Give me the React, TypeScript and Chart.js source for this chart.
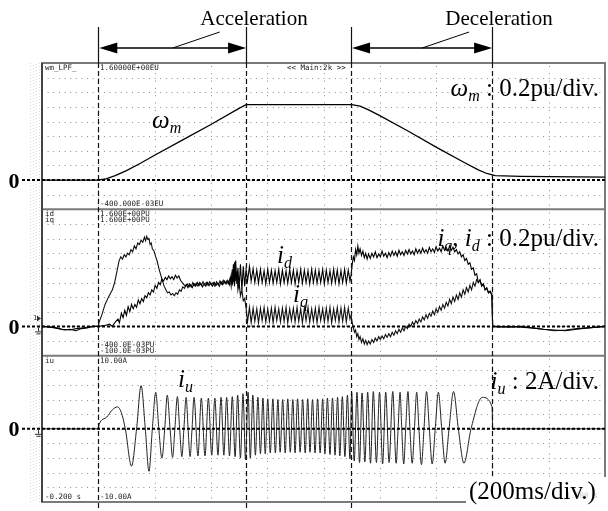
import React, { useEffect, useRef } from "react";
import { Chart, registerables } from "chart.js";

Chart.register(...registerables);

// ---------- axis ranges / markers ----------
const timeRange: [number, number] = [-0.2, 1.8]; // s, 200 ms/div
const puRange: [number, number] = [-0.4, 1.6]; // pu, 0.2 pu/div
const ampRange: [number, number] = [-10, 10]; // A, 2 A/div
const markerTimes = [0, 0.525, 0.898, 1.399]; // dashed event lines (s)

// ---------- series: [time s, value] ----------
const omegaPoints: [number, number][] = [
  [-0.2, 0], [0, 0], [0.03, 0.02], [0.06, 0.06], [0.1, 0.13], [0.15, 0.23], [0.2, 0.34], [0.3, 0.55],
  [0.4, 0.76], [0.5, 0.98], [0.525, 1.03], [0.9, 1.03], [0.93, 1.01], [0.96, 0.96], [1.0, 0.88],
  [1.1, 0.67], [1.2, 0.45], [1.3, 0.24], [1.35, 0.14], [1.38, 0.09], [1.41, 0.06], [1.5, 0.05], [1.8, 0.04],
];

const idPoints: [number, number][] = [
  [-0.2, 0], [-0.17, -0.01], [-0.14, -0.03], [-0.12, -0.05], [-0.1, -0.04], [-0.08, -0.06], [-0.06, -0.03], [-0.04, -0.02], [-0.02, 0], [0, 0],
  [0.02, 0.01], [0.04, 0.03], [0.05, 0.0], [0.06, 0.06], [0.07, 0.1], [0.075, 0.05], [0.082, 0.18], [0.088, 0.12], [0.094, 0.22], [0.1, 0.15],
  [0.106, 0.27], [0.112, 0.2], [0.118, 0.3], [0.124, 0.24], [0.13, 0.3], [0.136, 0.26], [0.142, 0.36], [0.148, 0.31], [0.154, 0.38], [0.16, 0.34],
  [0.166, 0.42], [0.172, 0.39], [0.178, 0.46], [0.184, 0.43], [0.19, 0.5], [0.196, 0.47], [0.202, 0.56], [0.208, 0.52], [0.214, 0.6], [0.22, 0.57],
  [0.226, 0.65], [0.232, 0.62], [0.238, 0.67], [0.244, 0.64], [0.25, 0.69], [0.256, 0.65], [0.262, 0.68], [0.268, 0.64], [0.274, 0.7], [0.28, 0.66],
  [0.286, 0.69], [0.292, 0.63], [0.298, 0.6], [0.304, 0.57], [0.31, 0.55], [0.316, 0.58], [0.322, 0.54], [0.328, 0.57], [0.334, 0.53], [0.34, 0.58],
  [0.346, 0.55], [0.352, 0.6], [0.358, 0.56], [0.364, 0.59], [0.37, 0.54], [0.376, 0.58], [0.382, 0.55], [0.388, 0.6], [0.394, 0.56], [0.4, 0.59],
  [0.406, 0.55], [0.412, 0.6], [0.418, 0.56], [0.424, 0.59], [0.43, 0.55], [0.436, 0.61], [0.442, 0.57], [0.448, 0.62], [0.454, 0.58], [0.46, 0.63],
  [0.466, 0.57], [0.472, 0.7], [0.476, 0.56], [0.48, 0.85], [0.484, 0.55], [0.488, 0.9], [0.492, 0.58], [0.496, 0.8], [0.5, 0.52], [0.505, 0.85],
  [0.51, 0.5], [0.515, 0.82], [0.52, 0.55], [0.525, 0.78],
  [0.53, 0.62], [0.537, 0.82], [0.543, 0.62], [0.55, 0.79], [0.556, 0.6], [0.563, 0.77], [0.569, 0.59], [0.576, 0.78], [0.582, 0.6], [0.589, 0.76],
  [0.595, 0.58], [0.602, 0.78], [0.608, 0.6], [0.615, 0.77], [0.621, 0.59], [0.628, 0.76], [0.634, 0.6], [0.641, 0.78], [0.647, 0.58], [0.654, 0.77],
  [0.66, 0.6], [0.667, 0.76], [0.673, 0.59], [0.68, 0.78], [0.686, 0.6], [0.693, 0.77], [0.699, 0.58], [0.706, 0.76], [0.712, 0.6], [0.719, 0.78],
  [0.725, 0.59], [0.732, 0.77], [0.738, 0.6], [0.745, 0.76], [0.751, 0.58], [0.758, 0.78], [0.764, 0.6], [0.771, 0.77], [0.777, 0.59], [0.784, 0.76],
  [0.79, 0.6], [0.797, 0.78], [0.803, 0.58], [0.81, 0.77], [0.816, 0.6], [0.823, 0.76], [0.829, 0.59], [0.836, 0.78], [0.842, 0.6], [0.849, 0.77],
  [0.855, 0.58], [0.862, 0.76], [0.868, 0.6], [0.875, 0.78], [0.881, 0.59], [0.888, 0.77], [0.894, 0.62],
  [0.898, 0.7], [0.902, 0.85], [0.906, 0.95], [0.91, 0.9], [0.914, 1.05], [0.918, 0.98], [0.922, 1.1], [0.926, 1.0], [0.93, 1.06], [0.935, 0.97],
  [0.94, 1.03], [0.945, 0.94], [0.95, 1.0], [0.955, 0.92], [0.96, 0.99], [0.966, 0.93], [0.972, 1.0], [0.978, 0.95], [0.984, 1.02], [0.99, 0.94],
  [0.996, 0.99], [1.002, 0.95], [1.008, 1.03], [1.014, 0.96], [1.02, 1.0], [1.026, 0.94], [1.032, 1.01], [1.038, 0.96], [1.044, 1.03], [1.05, 0.97],
  [1.056, 1.02], [1.062, 0.96], [1.068, 1.04], [1.074, 0.98], [1.08, 1.02], [1.086, 0.97], [1.092, 1.04], [1.098, 0.99], [1.104, 1.05], [1.11, 0.99],
  [1.116, 1.03], [1.122, 0.98], [1.128, 1.06], [1.134, 1.0], [1.14, 1.05], [1.146, 1.0], [1.152, 1.07], [1.158, 1.01], [1.164, 1.05], [1.17, 1.0],
  [1.176, 1.08], [1.182, 1.02], [1.188, 1.06], [1.194, 1.01], [1.2, 1.09], [1.206, 1.03], [1.212, 1.07], [1.218, 1.02], [1.224, 1.1], [1.23, 1.04],
  [1.236, 1.08], [1.242, 1.03], [1.248, 1.1], [1.254, 1.04], [1.26, 1.08], [1.266, 1.02], [1.272, 1.05], [1.278, 0.99], [1.284, 1.02], [1.29, 0.95],
  [1.296, 0.98], [1.302, 0.9], [1.308, 0.93], [1.314, 0.85], [1.32, 0.87], [1.326, 0.78], [1.332, 0.8], [1.338, 0.7], [1.344, 0.72], [1.35, 0.6],
  [1.356, 0.64], [1.362, 0.55], [1.368, 0.58], [1.374, 0.5], [1.38, 0.52], [1.386, 0.46], [1.392, 0.48], [1.398, 0.42], [1.401, 0.0],
  [1.42, 0], [1.46, -0.01], [1.5, 0], [1.54, -0.02], [1.58, -0.04], [1.62, -0.05], [1.66, -0.06], [1.7, -0.04], [1.74, -0.02], [1.8, 0],
];

const iqPoints: [number, number][] = [
  [-0.2, 0], [-0.16, -0.01], [-0.13, -0.04], [-0.1, -0.05], [-0.08, -0.03], [-0.05, -0.02], [-0.02, 0], [0, 0],
  [0.003, 0.06], [0.012, 0.15], [0.024, 0.3], [0.036, 0.4], [0.05, 0.5], [0.058, 0.6], [0.066, 0.75], [0.074, 0.9], [0.08, 0.95], [0.086, 0.92],
  [0.092, 0.98], [0.098, 0.95], [0.104, 1.0], [0.11, 0.98], [0.116, 1.05], [0.122, 1.02], [0.128, 1.1], [0.134, 1.06], [0.14, 1.14], [0.146, 1.12],
  [0.152, 1.18], [0.158, 1.15], [0.164, 1.22], [0.168, 1.17], [0.172, 1.23], [0.176, 1.19], [0.18, 1.2], [0.184, 1.12], [0.188, 1.14], [0.192, 1.06],
  [0.198, 1.03], [0.204, 0.95], [0.21, 0.88], [0.216, 0.78], [0.222, 0.7], [0.228, 0.62], [0.234, 0.55], [0.24, 0.5], [0.246, 0.46], [0.252, 0.47],
  [0.258, 0.43], [0.264, 0.45], [0.27, 0.42], [0.276, 0.46], [0.282, 0.44], [0.288, 0.5], [0.294, 0.48], [0.3, 0.54], [0.306, 0.52], [0.312, 0.57],
  [0.318, 0.53], [0.324, 0.58], [0.33, 0.54], [0.336, 0.6], [0.342, 0.56], [0.348, 0.59], [0.354, 0.55], [0.36, 0.6], [0.366, 0.56], [0.372, 0.61],
  [0.378, 0.57], [0.384, 0.6], [0.39, 0.56], [0.396, 0.61], [0.402, 0.57], [0.408, 0.6], [0.414, 0.55], [0.42, 0.61], [0.426, 0.57], [0.432, 0.62],
  [0.438, 0.58], [0.444, 0.63], [0.45, 0.59], [0.456, 0.62], [0.462, 0.58], [0.468, 0.66], [0.472, 0.55], [0.476, 0.78], [0.48, 0.6], [0.484, 0.88],
  [0.488, 0.62], [0.492, 0.75], [0.496, 0.5], [0.5, 0.6], [0.505, 0.42], [0.51, 0.5], [0.515, 0.35], [0.52, 0.38], [0.525, 0.25],
  [0.53, 0.06], [0.537, 0.26], [0.543, 0.05], [0.55, 0.25], [0.556, 0.07], [0.563, 0.24], [0.569, 0.05], [0.576, 0.25], [0.582, 0.08], [0.589, 0.26],
  [0.595, 0.06], [0.602, 0.24], [0.608, 0.07], [0.615, 0.25], [0.621, 0.05], [0.628, 0.26], [0.634, 0.08], [0.641, 0.24], [0.647, 0.06], [0.654, 0.25],
  [0.66, 0.07], [0.667, 0.26], [0.673, 0.05], [0.68, 0.24], [0.686, 0.08], [0.693, 0.25], [0.699, 0.06], [0.706, 0.26], [0.712, 0.07], [0.719, 0.24],
  [0.725, 0.05], [0.732, 0.25], [0.738, 0.08], [0.745, 0.26], [0.751, 0.06], [0.758, 0.24], [0.764, 0.07], [0.771, 0.25], [0.777, 0.05], [0.784, 0.26],
  [0.79, 0.08], [0.797, 0.24], [0.803, 0.06], [0.81, 0.25], [0.816, 0.07], [0.823, 0.26], [0.829, 0.05], [0.836, 0.24], [0.842, 0.08], [0.849, 0.26],
  [0.855, 0.06], [0.862, 0.25], [0.868, 0.07], [0.875, 0.26], [0.881, 0.06], [0.888, 0.25], [0.894, 0.1],
  [0.898, 0.15], [0.902, 0.05], [0.906, -0.02], [0.91, -0.08], [0.914, -0.05], [0.918, -0.14], [0.922, -0.1], [0.926, -0.18], [0.93, -0.14], [0.935, -0.22],
  [0.94, -0.17], [0.945, -0.24], [0.95, -0.19], [0.955, -0.25], [0.96, -0.2], [0.966, -0.24], [0.972, -0.18], [0.978, -0.22], [0.984, -0.16], [0.99, -0.2],
  [0.996, -0.14], [1.002, -0.18], [1.008, -0.13], [1.014, -0.17], [1.02, -0.11], [1.026, -0.15], [1.032, -0.1], [1.038, -0.14], [1.044, -0.08], [1.05, -0.12],
  [1.056, -0.06], [1.062, -0.1], [1.068, -0.04], [1.074, -0.08], [1.08, -0.02], [1.086, -0.06], [1.092, 0.0], [1.098, -0.03], [1.104, 0.03], [1.11, 0.0],
  [1.116, 0.06], [1.122, 0.02], [1.128, 0.08], [1.134, 0.04], [1.14, 0.1], [1.146, 0.06], [1.152, 0.13], [1.158, 0.09], [1.164, 0.16], [1.17, 0.11],
  [1.176, 0.18], [1.182, 0.14], [1.188, 0.21], [1.194, 0.16], [1.2, 0.24], [1.206, 0.19], [1.212, 0.27], [1.218, 0.22], [1.224, 0.3], [1.23, 0.25],
  [1.236, 0.33], [1.242, 0.28], [1.248, 0.37], [1.254, 0.31], [1.26, 0.4], [1.266, 0.34], [1.272, 0.43], [1.278, 0.37], [1.284, 0.46], [1.29, 0.4],
  [1.296, 0.5], [1.302, 0.44], [1.308, 0.53], [1.314, 0.47], [1.32, 0.56], [1.326, 0.5], [1.332, 0.6], [1.338, 0.55], [1.344, 0.64], [1.35, 0.6],
  [1.356, 0.63], [1.362, 0.56], [1.368, 0.58], [1.374, 0.5], [1.38, 0.53], [1.386, 0.46], [1.392, 0.48], [1.398, 0.44], [1.401, 0.0],
  [1.42, -0.01], [1.46, 0], [1.5, -0.01], [1.54, -0.02], [1.58, -0.04], [1.62, -0.06], [1.66, -0.05], [1.7, -0.03], [1.74, -0.02], [1.8, 0],
];

const iuPoints: [number, number][] = [
  [-0.2, 0], [0, 0], [0.003, 0.6], [0.03, 1.6], [0.05, 2.6], [0.068, 3.0], [0.082, 2.2], [0.096, 0], [0.118, -5.1], [0.136, 0],
  [0.152, 5.9], [0.167, 0], [0.18, -5.8], [0.192, 0], [0.204, 5.0], [0.215, 0], [0.226, -4.0], [0.236, 0], [0.245, 4.6], [0.255, 0],
  [0.264, -3.9], [0.272, 0], [0.281, 4.4], [0.289, 0], [0.297, -3.8], [0.304, 0], [0.312, 4.3], [0.319, 0], [0.326, -3.8], [0.333, 0],
  [0.34, 4.3], [0.354, -3.7], [0.366, 4.2], [0.379, -3.7], [0.391, 4.2], [0.403, -3.6], [0.414, 4.2], [0.425, -3.6], [0.436, 4.3], [0.446, -3.6],
  [0.456, 4.3], [0.466, -3.7], [0.476, 4.4], [0.486, -3.8], [0.495, 4.6], [0.505, -4.0], [0.514, 4.8], [0.523, -4.2], [0.532, 5.0], [0.54, -4.0],
  [0.549, 4.6], [0.558, -3.6], [0.567, 4.3], [0.576, -3.4], [0.585, 4.2], [0.593, -3.4], [0.602, 4.1], [0.611, -3.3], [0.62, 4.1], [0.629, -3.3],
  [0.638, 4.0], [0.646, -3.2], [0.655, 4.0], [0.664, -3.3], [0.673, 4.1], [0.682, -3.2], [0.691, 4.0], [0.699, -3.3], [0.708, 4.1], [0.717, -3.2],
  [0.726, 4.0], [0.735, -3.3], [0.744, 4.1], [0.752, -3.2], [0.761, 4.0], [0.77, -3.3], [0.779, 4.1], [0.788, -3.3], [0.797, 4.1], [0.805, -3.4],
  [0.814, 4.2], [0.823, -3.5], [0.832, 4.2], [0.841, -3.6], [0.85, 4.3], [0.858, -3.7], [0.867, 4.4], [0.876, -3.8], [0.885, 4.6], [0.894, -4.1],
  [0.9, 5.0], [0.909, -4.4], [0.919, 5.0], [0.928, -4.6], [0.937, 4.9], [0.947, -4.5], [0.957, 5.0], [0.967, -4.7], [0.977, 5.1], [0.988, -4.6],
  [0.999, 5.0], [1.01, -4.8], [1.021, 5.0], [1.033, -4.6], [1.046, 5.1], [1.058, -4.7], [1.065, 0], [1.072, 5.0], [1.078, 0], [1.085, -4.8],
  [1.092, 0], [1.1, 5.1], [1.107, 0], [1.115, -4.7], [1.123, 0], [1.131, 5.0], [1.139, 0], [1.148, -4.9], [1.157, 0], [1.166, 5.1],
  [1.176, 0], [1.186, -4.8], [1.197, 0], [1.208, 5.0], [1.22, 0], [1.232, -4.7], [1.246, 0], [1.262, 5.1], [1.279, 0], [1.299, -4.7],
  [1.324, 0], [1.364, 4.3], [1.399, 3.0], [1.401, 0], [1.8, 0],
];

// ---------- text ----------
const SERIF = '"Liberation Serif", "Times New Roman", serif';
const MONO = '"DejaVu Sans Mono", monospace';

type Seg = { t: string; it?: boolean; sub?: boolean };

function segFont(s: Seg, size: number) {
  return `${s.it ? "italic " : ""}${s.sub ? Math.round(size * 0.64) : size}px ${SERIF}`;
}

function drawRich(ctx: CanvasRenderingContext2D, x: number, y: number, segs: Seg[], size: number, align: "left" | "right" = "left") {
  const widths = segs.map((s) => {
    ctx.font = segFont(s, size);
    return ctx.measureText(s.t).width;
  });
  const total = widths.reduce((a, b) => a + b, 0);
  let cx = align === "right" ? x - total : x;
  segs.forEach((s, i) => {
    ctx.font = segFont(s, size);
    ctx.fillText(s.t, cx, s.sub ? y + size * 0.2 : y);
    cx += widths[i];
  });
}

const scopePlugin = {
  id: "scopeDecor",
  beforeDraw(chart: any) {
    const ctx: CanvasRenderingContext2D = chart.ctx;
    ctx.save();
    ctx.fillStyle = "#ffffff";
    ctx.fillRect(0, 0, chart.width, chart.height);
    // faint scan texture left of the frame
    ctx.strokeStyle = "#dcdcdc";
    ctx.lineWidth = 1;
    [30.5, 33.5, 36.5, 39.5].forEach((xx, i) => {
      ctx.setLineDash([1, 2]);
      ctx.lineDashOffset = i;
      ctx.beginPath();
      ctx.moveTo(xx, chart.chartArea.top);
      ctx.lineTo(xx, chart.chartArea.bottom);
      ctx.stroke();
    });
    ctx.restore();
  },
  beforeDatasetsDraw(chart: any) {
    const ctx: CanvasRenderingContext2D = chart.ctx;
    const a = chart.chartArea;
    const xs = chart.scales.x;
    const panels = [chart.scales.y1, chart.scales.y2, chart.scales.y3];
    ctx.save();
    ctx.strokeStyle = "#8a8a8a";
    ctx.lineWidth = 1;
    // horizontal dotted grid
    ctx.setLineDash([1, 4.63]);
    panels.forEach((s: any) => {
      const step = (s.max - s.min) / 10;
      for (let k = 1; k < 10; k++) {
        const y = Math.round(s.getPixelForValue(s.min + k * step)) + 0.5;
        ctx.beginPath();
        ctx.moveTo(a.left, y);
        ctx.lineTo(a.right, y);
        ctx.stroke();
      }
    });
    // vertical dotted grid
    ctx.setLineDash([1, 6.3]);
    for (let k = 1; k < 10; k++) {
      const xx = Math.round(xs.getPixelForValue(timeRange[0] + k * 0.2)) + 0.5;
      panels.forEach((s: any) => {
        ctx.beginPath();
        ctx.moveTo(xx, s.top + 3);
        ctx.lineTo(xx, s.bottom);
        ctx.stroke();
      });
    }
    ctx.setLineDash([]);
    // frame
    ctx.strokeStyle = "#7a7a7a";
    ctx.lineWidth = 2;
    ctx.strokeRect(a.left, a.top, a.right - a.left, a.bottom - a.top);
    [chart.scales.y2.top, chart.scales.y3.top].forEach((y: number) => {
      ctx.beginPath();
      ctx.moveTo(a.left, y);
      ctx.lineTo(a.right, y);
      ctx.stroke();
    });
    ctx.strokeStyle = "#444";
    ctx.beginPath();
    ctx.moveTo(a.left, a.top);
    ctx.lineTo(a.left, a.bottom);
    ctx.stroke();
    ctx.restore();
  },
  afterDatasetsDraw(chart: any) {
    const ctx: CanvasRenderingContext2D = chart.ctx;
    const a = chart.chartArea;
    const xs = chart.scales.x;
    const panels = [chart.scales.y1, chart.scales.y2, chart.scales.y3];
    ctx.save();

    // zero reference lines with "0" labels
    panels.forEach((s: any) => {
      const y = s.getPixelForValue(0);
      ctx.strokeStyle = "#000";
      ctx.lineWidth = 2;
      ctx.setLineDash([3, 2]);
      ctx.beginPath();
      ctx.moveTo(22, y);
      ctx.lineTo(a.right, y);
      ctx.stroke();
      ctx.setLineDash([]);
      ctx.fillStyle = "#000";
      ctx.font = `bold 22px ${SERIF}`;
      ctx.textAlign = "center";
      ctx.textBaseline = "alphabetic";
      ctx.fillText("0", 14, y + 7.5);
    });

    // channel / ground markers
    ctx.fillStyle = "#333";
    ctx.strokeStyle = "#333";
    ctx.lineWidth = 1;
    [chart.scales.y2, chart.scales.y3].forEach((s: any, i: number) => {
      const y = s.getPixelForValue(0);
      if (i === 0) {
        ctx.font = `7px ${MONO}`;
        ctx.textAlign = "left";
        ctx.textBaseline = "middle";
        ctx.fillText("1", 33, y - 8);
        ctx.beginPath();
        ctx.moveTo(37, y - 11);
        ctx.lineTo(41, y - 8);
        ctx.lineTo(37, y - 5);
        ctx.closePath();
        ctx.fill();
      }
      ctx.beginPath();
      ctx.moveTo(38.5, y + 1);
      ctx.lineTo(38.5, y + 5);
      ctx.moveTo(35, y + 5.5);
      ctx.lineTo(42, y + 5.5);
      ctx.moveTo(36.5, y + 7.5);
      ctx.lineTo(40.5, y + 7.5);
      ctx.stroke();
    });

    // event marker lines
    ctx.strokeStyle = "#111";
    ctx.lineWidth = 1.2;
    markerTimes.forEach((t) => {
      const px = Math.round(xs.getPixelForValue(t)) + 0.5;
      ctx.setLineDash([]);
      ctx.beginPath();
      ctx.moveTo(px, 27);
      ctx.lineTo(px, a.top);
      ctx.stroke();
      ctx.setLineDash([5, 3]);
      ctx.beginPath();
      ctx.moveTo(px, a.top);
      ctx.lineTo(px, chart.height);
      ctx.stroke();
    });
    ctx.setLineDash([]);

    // double arrows with leaders
    const arrowY = 48;
    const drawHead = (tipX: number, dir: number) => {
      ctx.beginPath();
      ctx.moveTo(tipX, arrowY);
      ctx.lineTo(tipX - dir * 18, arrowY - 5.5);
      ctx.lineTo(tipX - dir * 18, arrowY + 5.5);
      ctx.closePath();
      ctx.fill();
    };
    ctx.fillStyle = "#000";
    ctx.strokeStyle = "#000";
    ctx.lineWidth = 1.3;
    [[markerTimes[0], markerTimes[1]], [markerTimes[2], markerTimes[3]]].forEach(([t1, t2]) => {
      const x1 = xs.getPixelForValue(t1) + 1;
      const x2 = xs.getPixelForValue(t2);
      ctx.beginPath();
      ctx.moveTo(x1 + 4, arrowY);
      ctx.lineTo(x2 - 4, arrowY);
      ctx.stroke();
      drawHead(x1, -1);
      drawHead(x2, 1);
      const mid = (x1 + x2) / 2;
      ctx.lineWidth = 1;
      ctx.beginPath();
      ctx.moveTo(mid, arrowY);
      ctx.lineTo(mid + 47, 32);
      ctx.stroke();
      ctx.lineWidth = 1.3;
    });

    ctx.fillStyle = "#000";
    ctx.textAlign = "center";
    ctx.textBaseline = "alphabetic";
    ctx.font = `21px ${SERIF}`;
    ctx.fillText("Acceleration", 254, 25);
    ctx.fillText("Deceleration", 499, 25);

    // oscilloscope header texts
    ctx.font = `7.5px ${MONO}`;
    ctx.textAlign = "left";
    ctx.textBaseline = "middle";
    ctx.fillStyle = "#222";
    const p1 = chart.scales.y1, p2 = chart.scales.y2, p3 = chart.scales.y3;
    ctx.fillText("wm_LPF_", 45, p1.top + 5);
    ctx.fillText("1.60000E+00EU", 100, p1.top + 5);
    ctx.fillText("<< Main:2k >>", 287, p1.top + 5);
    ctx.fillText("-400.000E-03EU", 100, p1.bottom - 5);
    ctx.fillText("id", 45, p2.top + 5);
    ctx.fillText("iq", 45, p2.top + 11);
    ctx.fillText("1.600E+00PU", 100, p2.top + 5);
    ctx.fillText("1.600E+00PU", 100, p2.top + 11);
    ctx.fillText("-400.0E-03PU", 100, p2.bottom - 11);
    ctx.fillText("-100.0E-03PU", 100, p2.bottom - 5);
    ctx.fillText("iu", 45, p3.top + 5);
    ctx.fillText("10.00A", 100, p3.top + 5);
    ctx.fillText("-0.200 s", 45, p3.bottom - 5);
    ctx.fillText("-10.00A", 100, p3.bottom - 5);

    // annotation labels
    ctx.fillStyle = "#000";
    ctx.textBaseline = "alphabetic";
    ctx.textAlign = "left";
    const S = 25;
    drawRich(ctx, 599, 96, [{ t: "ω", it: true }, { t: "m", it: true, sub: true }, { t: " : 0.2pu/div." }], S, "right");
    drawRich(ctx, 599, 246, [{ t: "i", it: true }, { t: "q", it: true, sub: true }, { t: ", " }, { t: "i", it: true }, { t: "d", it: true, sub: true }, { t: " : 0.2pu/div." }], S, "right");
    drawRich(ctx, 599, 389, [{ t: "i", it: true }, { t: "u", it: true, sub: true }, { t: " : 2A/div." }], S, "right");
    drawRich(ctx, 152, 128, [{ t: "ω", it: true }, { t: "m", it: true, sub: true }], S);
    drawRich(ctx, 277, 263, [{ t: "i", it: true }, { t: "d", it: true, sub: true }], S);
    drawRich(ctx, 293, 302, [{ t: "i", it: true }, { t: "q", it: true, sub: true }], S);
    drawRich(ctx, 178, 387, [{ t: "i", it: true }, { t: "u", it: true, sub: true }], S);

    // time/div label on white patch
    ctx.fillStyle = "#fff";
    ctx.fillRect(466, 477, 142, 34);
    ctx.fillStyle = "#c8c8c8";
    ctx.font = `7.5px ${MONO}`;
    ctx.fillText("1.800 s", 566, 498);
    ctx.fillStyle = "#000";
    ctx.font = `${S}px ${SERIF}`;
    ctx.fillText("(200ms/div.)", 469, 499);
    ctx.restore();
  },
};

const hiddenAxis = (min: number, max: number) => ({
  type: "linear" as const,
  position: "left" as const,
  stack: "scope",
  stackWeight: 1,
  min,
  max,
  display: true,
  ticks: { display: false },
  grid: { display: false, drawTicks: false },
  border: { display: false },
});

export default function App() {
  const canvasRef = useRef<HTMLCanvasElement | null>(null);

  useEffect(() => {
    const canvas = canvasRef.current;
    if (!canvas) return;
    const toXY = (pts: [number, number][]) => pts.map(([x, y]) => ({ x, y }));
    const chart = new Chart(canvas, {
      type: "line",
      data: {
        datasets: [
          { label: "ωm", data: toXY(omegaPoints), yAxisID: "y1", borderColor: "#000", borderWidth: 1.3, pointRadius: 0, fill: false },
          { label: "id", data: toXY(idPoints), yAxisID: "y2", borderColor: "#000", borderWidth: 1.1, pointRadius: 0, fill: false },
          { label: "iq", data: toXY(iqPoints), yAxisID: "y2", borderColor: "#111", borderWidth: 1.1, pointRadius: 0, fill: false },
          { label: "iu", data: toXY(iuPoints), yAxisID: "y3", borderColor: "#222", borderWidth: 1, pointRadius: 0, fill: false, cubicInterpolationMode: "monotone" },
        ],
      },
      options: {
        responsive: false,
        animation: false,
        devicePixelRatio: 1,
        layout: { padding: { left: 42, right: 3, top: 63, bottom: 9 } },
        plugins: { legend: { display: false }, tooltip: { enabled: false } },
        scales: {
          x: { type: "linear", min: timeRange[0], max: timeRange[1], display: false },
          // stacked scales are placed bottom-up in declaration order
          y3: hiddenAxis(ampRange[0], ampRange[1]),
          y2: hiddenAxis(puRange[0], puRange[1]),
          y1: hiddenAxis(puRange[0], puRange[1]),
        },
      } as any,
      plugins: [scopePlugin],
    });
    return () => chart.destroy();
  }, []);

  return (
    <div style={{ position: "fixed", left: 0, top: 0, width: 608, height: 511, background: "#fff" }}>
      <canvas ref={canvasRef} width={608} height={511} style={{ display: "block", width: 608, height: 511 }} />
    </div>
  );
}
